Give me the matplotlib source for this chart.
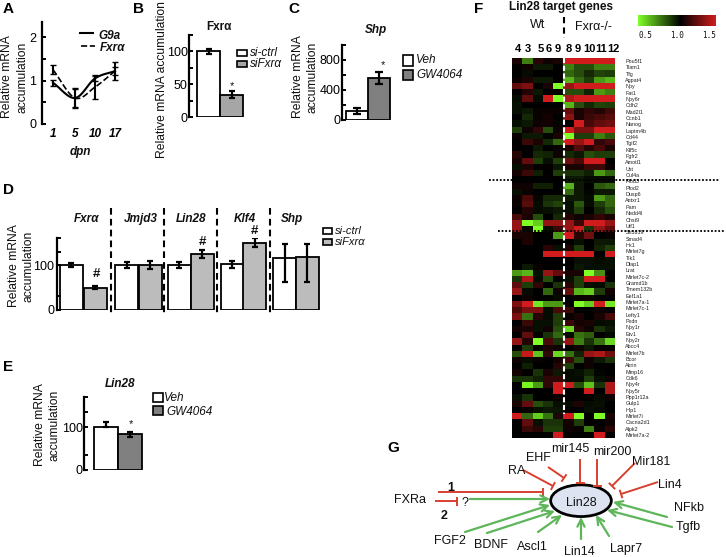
# Multi-panel figure: Lin28 / Fxra expression bars, heatmap and pathway sketch

import numpy as np
import matplotlib
matplotlib.use("Agg")
import matplotlib.pyplot as plt
from matplotlib.colors import LinearSegmentedColormap, TwoSlopeNorm
from matplotlib.patches import Ellipse, Rectangle

plt.rcParams['font.family'] = ['Liberation Sans', 'DejaVu Sans']

W, H = 726, 557

# --- panel A
a_days = ['1', '5', '10', '17']
a_g9a = [0.95, 0.60, 1.05, 1.22]
a_g9a_err = [0.07, 0.22, 0.06, 0.10]
a_fxr = [1.25, 0.60, 0.85, 1.22]
a_fxr_err = [0.10, 0.20, 0.28, 0.20]

# --- panel B
b_vals = [100, 34]
b_err = [4, 5]

# --- panel C
c_vals = [120, 565]
c_err = [45, 80]

# --- panel D
d_genes = ['Fxr\u03b1', 'Jmjd3', 'Lin28', 'Klf4', 'Shp']
d_ctrl = [100, 100, 100, 102, 116]
d_ctrl_lo = [4, 7, 7, 8, 53]
d_ctrl_hi = [4, 7, 7, 8, 30]
d_si = [50, 100, 124, 150, 117]
d_si_lo = [4, 8, 9, 10, 54]
d_si_hi = [4, 8, 9, 10, 29]

# --- panel E
e_vals = [100, 83]
e_err_lo = [0, 6]
e_err_hi = [12, 6]

# --- panel F
f_samples = ['4', '3', '5', '6', '9', '8', '9', '10', '11', '12']
f_genes = ['Pou5f1', 'Tiam1', 'Tfg', 'Agpat4', 'Npy', 'Fat1', 'Npy6r', 'Cdh2', 'Mad2l1', 'Ccnb1',
           'Nanog', 'Laptm4b', 'Cd44', 'Tgif2', 'Klf5c', 'Fgfr2', 'Amotl1', 'Ust', 'Cul4a', 'Plod3',
           'Plod2', 'Dusp6', 'Antxr1', 'Pam', 'Nedd4l', 'Chst9', 'Utf1', 'Sh3d19', 'Smad4', 'Hk1',
           'Mirlet7g', 'Tlk1', 'Dlap1', 'Lrat', 'Mirlet7c-2', 'Gramd1b', 'Tmem132b', 'Eef1a1',
           'Mirlet7a-1', 'Mirlet7c-1', 'Lefty1', 'Pxdn', 'Npy1r', 'Etv1', 'Npy2r', 'Abcc4', 'Mirlet7b',
           'Bcor', 'Akrin', 'Mmp16', 'Cdk6', 'Npy4r', 'Npy5r', 'Ppp1r12a', 'Gulp1', 'Hip1', 'Mirlet7i',
           'Cacna2d1', 'Alpk2', 'Mirlet7a-2']
# offset from 1.0 for each row
f_offset = [
    [.05, -.25, .08, .03, .05, .42, .42, .42, .42, .42],
    [0, .03, -.05, -.05, 0, -.25, -.15, -.15, -.25, -.25],
    [0, -.02, 0, 0, 0, -.2, -.15, -.08, -.13, -.12],
    [.02, .05, -.05, -.05, 0, -.35, -.2, -.12, -.3, -.35],
    [.2, .25, 0, .05, -.5, .3, .42, .42, .42, .42],
    [0, .07, -.05, 0, 0, -.15, -.15, -.07, -.3, -.25],
    [-.02, .2, -.02, .42, -.5, .35, .42, .42, .42, .42],
    [-.03, 0, 0, 0, 0, -.35, -.15, -.08, -.13, -.12],
    [-.03, -.05, .02, .02, .02, .2, .05, .1, .07, .13],
    [0, -.08, .02, .04, 0, .28, .05, .12, .15, .18],
    [-.03, -.05, .03, .04, -.01, 0, .42, .15, .2, .22],
    [-.12, .03, .1, -.15, .03, .42, .25, .25, .42, .42],
    [.02, -.05, -.05, -.01, .05, -.5, -.12, -.12, -.25, -.17],
    [0, .12, .05, -.08, -.2, .42, .3, .42, .1, .15],
    [0, 0, -.05, 0, .02, .05, .17, .08, .15, .05],
    [.08, 0, -.08, -.07, .03, -.08, -.05, -.15, -.12, -.12],
    [.04, .2, -.12, -.03, -.12, .22, .15, .42, .42, 0],
    [-.03, .05, .01, .01, -.04, .05, .05, .12, .12, .02],
    [.04, .12, -.06, 0, -.12, -.1, -.1, -.06, -.3, -.2],
    [0, 0, 0, 0, 0, -.05, -.05, -.02, -.02, -.02],
    [.03, .03, -.06, -.06, 0, -.35, -.05, 0, -.17, -.2],
    [-.03, .02, 0, 0, 0, -.2, -.05, -.01, -.05, -.05],
    [.02, .15, -.01, -.08, -.08, -.05, -.05, -.02, -.3, -.2],
    [.02, .18, -.02, -.1, -.13, -.03, -.17, -.02, -.12, -.2],
    [0, .07, -.02, -.03, -.05, -.03, -.12, 0, -.08, -.15],
    [.15, .05, -.15, 0, -.08, .07, .03, .05, .1, .05],
    [.3, -.5, -.4, .3, .3, .3, .12, .42, .42, .3],
    [.3, -.02, -.5, -.03, .12, .3, .42, -.1, .3, .2],
    [.05, .05, 0, 0, -.3, .42, .08, .22, 0, .02],
    [0, .05, 0, 0, 0, 0, -.03, 0, -.05, -.05],
    [0, 0, 0, .08, -.03, .05, -.12, 0, -.07, -.12],
    [0, 0, 0, .42, .42, .42, .42, .42, 0, .42],
    [0, 0, 0, 0, 0, 0, -.03, -.03, -.02, -.03],
    [0, -.05, .02, 0, 0, 0, -.05, -.03, -.03, -.03],
    [-.3, -.35, -.03, .3, .2, .05, .05, -.5, -.28, 0],
    [-.1, .35, -.02, -.15, 0, -.03, -.12, .42, .42, 0],
    [.2, -.12, .1, 0, -.1, .08, -.12, -.03, -.02, -.1],
    [.3, -.02, 0, -.2, .03, .2, -.35, -.4, -.12, .04],
    [0, .03, 0, 0, -.02, 0, .02, .03, 0, 0],
    [.25, .42, -.45, -.3, -.3, 0, -.5, -.4, .42, -.45],
    [.15, .25, .25, -.02, .15, .12, 0, 0, .03, 0],
    [.25, -.22, .08, -.02, -.12, .02, .05, 0, .05, .15],
    [0, .12, -.03, -.03, -.12, .12, .04, .05, -.02, -.03],
    [.04, .05, -.03, .03, -.15, -.42, .08, .03, -.1, -.05],
    [0, .2, 0, -.1, -.2, -.02, -.22, -.18, 0, -.02],
    [.3, .07, -.5, .15, -.1, .3, -.25, -.1, -.22, -.42],
    [0, -.12, 0, .05, .03, 0, .03, -.05, 0, 0],
    [-.15, .4, -.38, .1, -.42, -.22, -.07, .3, .35, .22],
    [.03, -.02, .02, 0, .04, .12, -.15, .03, -.05, -.1],
    [0, -.06, 0, 0, .08, -.12, 0, .03, 0, 0],
    [.04, 0, -.1, .05, -.05, -.02, -.03, -.07, -.01, 0],
    [-.1, -.1, -.06, .1, .1, -.02, -.02, -.12, -.03, .03],
    [0, -.48, -.3, .1, .42, .42, -.15, -.38, -.1, .35],
    [0, 0, 0, 0, .42, 0, 0, .42, 0, .35],
    [-.03, -.1, 0, 0, .02, 0, 0, 0, -.02, .03],
    [.05, .2, -.15, -.1, -.03, -.02, .06, -.02, -.03, 0],
    [0, .02, -.03, -.05, -.04, 0, 0, -.03, -.02, 0],
    [.42, -.2, -.4, -.22, .06, .42, -.5, 0, -.5, .05],
    [0, .2, -.03, -.1, -.1, .04, -.12, 0, 0, .03],
    [0, .12, .08, -.12, -.12, .03, .02, -.25, .02, .08],
    [0, 0, 0, 0, .42, 0, 0, 0, .42, 0],
]

GREY_B = '#a6a6a6'
GREY_D = '#bcbcbc'
GREY_C = '#808080'
RED = '#d8402f'
GREEN = '#5fb55a'

fig = plt.figure(figsize=(W / 100, H / 100), dpi=100)


def px_axes(left, top, right, bottom, pad=1):
    # axes placed by pixel box, x data in pixels too
    ax = fig.add_axes([left / W, 1 - bottom / H, (right - left) / W, (bottom - top) / H])
    ax.set_xlim(left, right)
    ax.patch.set_alpha(0)
    for s in ['top', 'right', 'bottom']:
        ax.spines[s].set_visible(False)
    ax.spines['left'].set_linewidth(1.6)
    ax.tick_params(axis='y', direction='in', length=3, width=1.4, labelsize=9, pad=pad)
    ax.tick_params(axis='x', length=0)
    ax.set_xticks([])
    return ax


def draw_bars(ax, xs, vals, width, colors, lo, hi, cap=2):
    ax.bar(xs, vals, width=width, color=colors, edgecolor='black', linewidth=1.3)
    ax.errorbar(xs, vals, yerr=[lo, hi], fmt='none', ecolor='black', elinewidth=1.6,
                capsize=cap, capthick=1.6)


def smooth(x, y, n=24):
    # Catmull-Rom through the points so the curve has no overshoot from a single polynomial
    x = np.asarray(x, dtype=float)
    y = np.asarray(y, dtype=float)
    px = np.r_[2 * x[0] - x[1], x, 2 * x[-1] - x[-2]]
    py = np.r_[2 * y[0] - y[1], y, 2 * y[-1] - y[-2]]
    out_x, out_y = [], []
    t = np.linspace(0, 1, n)
    for i in range(1, len(px) - 2):
        for p, out in ((px, out_x), (py, out_y)):
            out.append(0.5 * (2 * p[i] + (p[i + 1] - p[i - 1]) * t
                              + (2 * p[i - 1] - 5 * p[i] + 4 * p[i + 1] - p[i + 2]) * t ** 2
                              + (3 * p[i] - p[i - 1] - 3 * p[i + 1] + p[i + 2]) * t ** 3))
    return np.concatenate(out_x), np.concatenate(out_y)


# Panel A
ax = px_axes(42, 22, 125, 124, pad=4)
ax.set_ylim(0, 2.35)
ax.set_yticks([0, 0.5, 1, 1.5, 2], ['0', '', '1', '', '2'])
a_x = np.array([53, 75, 95, 115])
ax.plot(*smooth(a_x, a_g9a), color='black', lw=1.5)
ax.plot(*smooth(a_x, a_fxr), color='black', lw=1.2, ls='--')
ax.errorbar(a_x, a_g9a, yerr=a_g9a_err, fmt='none', ecolor='black', elinewidth=1.5, capsize=2)
ax.errorbar(a_x, a_fxr, yerr=a_fxr_err, fmt='none', ecolor='black', elinewidth=1.5, capsize=2)
ax.set_xticks(a_x, a_days, fontsize=8.5, fontweight='bold', fontstyle='italic')
ax.tick_params(axis='x', pad=3)

# Panel B
ax = px_axes(189, 35, 250, 117)
ax.set_ylim(0, 125)
ax.set_yticks([0, 25, 50, 75, 100, 125], ['0', '', '50', '', '100', ''])
draw_bars(ax, [208.5, 231.5], b_vals, 23, ['white', GREY_B], b_err, b_err)

# Panel C
ax = px_axes(342, 45, 395, 120)
ax.set_ylim(0, 1000)
ax.set_yticks([0, 200, 400, 600, 800, 1000], ['0', '', '400', '', '800', ''])
draw_bars(ax, [357, 379], c_vals, 22, ['white', GREY_C], c_err, c_err, cap=3)

# Panel D
ax = px_axes(57, 238, 322, 310, pad=2)
ax.set_ylim(0, 160)
ax.set_yticks([0, 32, 100, 130, 160], ['0', '', '100', '', ''])
d_left = np.array([71, 126.5, 179, 232, 284.5])
d_right = np.array([95, 150, 202, 254.5, 307])
draw_bars(ax, d_left, d_ctrl, 23, 'white', d_ctrl_lo, d_ctrl_hi)
draw_bars(ax, d_right, d_si, 23, GREY_D, d_si_lo, d_si_hi)

# Panel E
ax = px_axes(84, 397, 145, 470)
ax.set_ylim(0, 170)
ax.set_yticks([0, 35, 100, 135, 170], ['0', '', '100', '', ''])
draw_bars(ax, [105.5, 129.5], e_vals, 24, ['white', GREY_C], e_err_lo, e_err_hi)

# Panel F heatmap
cmap = LinearSegmentedColormap.from_list('gbr', ['#80ff26', '#000000', '#d01c1c'])
norm = TwoSlopeNorm(vmin=0.5, vcenter=1.0, vmax=1.42)
heat = 1 + np.array(f_offset)
ax = fig.add_axes([512 / W, 1 - 438 / H, 103 / W, 380 / H])
ax.imshow(heat, cmap=cmap, norm=norm, aspect='auto', interpolation='nearest')
# sample and gene labels do not sit exactly on the cells in the original
col_w = 103 / heat.shape[1]
row_h = 380 / heat.shape[0]
sample_x = np.array([518, 528, 541, 549, 558, 569, 578, 589, 601, 613.5])
gene_y = 61 + np.arange(len(f_genes)) * 6.34
ax.set_xticks((sample_x - 512) / col_w - 0.5, f_samples, fontsize=8, fontweight='bold')
ax.xaxis.tick_top()
ax.set_yticks((gene_y - 58) / row_h - 0.5, f_genes, fontsize=3.9)
ax.yaxis.tick_right()
ax.tick_params(axis='both', length=0)
ax.tick_params(axis='y', pad=7.5, labelcolor='#222222')
ax.tick_params(axis='x', pad=3)
for s in ax.spines.values():
    s.set_visible(False)

# colour bar
cax = fig.add_axes([638 / W, 1 - 26 / H, 78 / W, 11 / H])
cax.imshow(np.linspace(0.5, 1.42, 256)[None, :], cmap=cmap, norm=norm, aspect='auto')
cax.axis('off')

# overlay in pixel coordinates for the annotation and the pathway sketch
ov = fig.add_axes([0, 0, 1, 1])
ov.set_xlim(0, W)
ov.set_ylim(H, 0)
ov.axis('off')
ov.patch.set_alpha(0)


def txt(x, y, s, size=8.7, weight='normal', style='normal', ha='center', rot=0, family=None, color='#111111'):
    ov.text(x, y, s, fontsize=size, fontweight=weight, fontstyle=style, ha=ha, va='center',
            rotation=rot, family=family, color=color)


def legend_box(x, y, w, h, color):
    ov.add_patch(Rectangle((x, y), w, h, facecolor=color, edgecolor='black', linewidth=1.2))


for x, y, s in [(8, 9, 'A'), (139, 9, 'B'), (294, 9, 'C'), (8, 190, 'D'), (8, 367, 'E'),
                (479, 9, 'F'), (393, 448, 'G')]:
    txt(x, y, s, size=11, weight='bold', color='black')

# y labels
for x1, x2, y in [(7, 22, 77), (298, 312, 77), (14, 29, 266), (40, 54, 425)]:
    txt(x1, y, 'Relative mRNA', rot=90)
    txt(x2, y, 'accumulation', rot=90)
txt(162, 80, 'Relative mRNA accumulation', rot=90)

# A annotation
ov.plot([80, 93], [33, 33], color='black', lw=1.5)
ov.plot([81, 95], [46, 46], color='black', lw=1.2, ls='--')
txt(98, 36, 'G9a', size=8.5, weight='bold', style='italic', ha='left')
txt(100, 48, 'Fxr\u03b1', size=8.5, weight='bold', style='italic', ha='left')
txt(80, 152, 'dpn', size=8.5, weight='bold', style='italic')

# B annotation
txt(219, 27, 'Fxr\u03b1', size=8.5, weight='bold')
txt(232, 86, '*', size=8)
legend_box(237, 50, 10, 6, 'white')
legend_box(237, 61, 10, 6, GREY_B)
txt(250, 53, 'si-ctrl', size=8.5, style='italic', ha='left')
txt(250, 64, 'siFxr\u03b1', size=8.5, style='italic', ha='left')

# C annotation
txt(376, 30, 'Shp', size=8.5, weight='bold', style='italic')
txt(383, 65, '*', size=8)
legend_box(403, 55, 10, 11, 'white')
legend_box(403, 70, 10, 10, GREY_C)
txt(416, 60, 'Veh', size=8.5, style='italic', ha='left')
txt(416, 75, 'GW4064', size=8.5, style='italic', ha='left')

# D annotation
for x, s in zip([87, 141, 191, 245, 292], d_genes):
    txt(x, 219, s, size=8.5, weight='bold', style='italic')
for x in [110.5, 164, 217, 269.5]:
    ov.plot([x, x], [208, 313], color='black', lw=1.5, ls=(0, (3.2, 2)))
for x, y in [(96, 274), (202, 242), (254.7, 231)]:
    txt(x, y, '#', size=9.5, weight='bold')
legend_box(323, 228, 9, 6, 'white')
legend_box(323, 239, 9, 6, GREY_D)
txt(335, 230.5, 'si-ctrl', size=8, style='italic', ha='left')
txt(335, 242, 'siFxr\u03b1', size=8, style='italic', ha='left')

# E annotation
txt(120, 384, 'Lin28', size=8.5, weight='bold', style='italic')
txt(131, 424, '*', size=8)
legend_box(153, 393, 10, 9, 'white')
legend_box(153, 406, 10, 9, GREY_C)
txt(164, 398, 'Veh', size=8.5, style='italic', ha='left')
txt(166, 412, 'GW4064', size=8.5, style='italic', ha='left')

# F annotation
txt(561, 7, 'Lin28 target genes', size=8.5, weight='bold')
txt(538, 25, 'Wt', size=9)
txt(593, 27, 'Fxr\u03b1-/-', size=9)
ov.plot([563.5, 563.5], [17, 38], color='black', lw=1.5, ls=(0, (3, 2)))
ov.plot([563.5, 563.5], [58, 414], color='white', lw=1.5, ls=(0, (2.5, 1.2)))
ov.plot([489, 720], [179.5, 179.5], color='black', lw=1.3, ls=(0, (1, 1)))
ov.plot([498, 725], [230.7, 230.7], color='black', lw=1.3, ls=(0, (1, 1)))
for x, s in [(645, '0.5'), (677, '1.0'), (709, '1.5')]:
    txt(x, 35, s, size=5.5, family='DejaVu Sans Mono')

# G pathway sketch
ov.add_patch(Ellipse((581, 500.7), 60.7, 31.7, facecolor='#dde3f0', edgecolor='black', linewidth=2))
txt(581, 503, 'Lin28', size=9)
for x, y, s in [(410, 500, 'FXRa'), (465, 503, '?'), (517, 471, 'RA'), (538, 458, 'EHF'),
                (570, 449, 'mir145'), (612, 452, 'mir200'), (651, 462, 'Mir181'), (670, 485, 'Lin4'),
                (689, 508, 'NFkb'), (688, 527, 'Tgfb'), (450, 541, 'FGF2'), (491, 545, 'BDNF'),
                (532, 547, 'Ascl1'), (579, 552, 'Lin14'), (626, 549, 'Lapr7')]:
    txt(x, y, s, size=9)
txt(451, 488, '1', size=9, weight='bold')
txt(444, 516, '2', size=9, weight='bold')

inhibit = [((438, 492), (543, 492)), ((435, 501), (457, 501)), ((523, 470), (553, 486)),
           ((548, 467), (564, 478)), ((580, 459), (580, 483)), ((597, 459), (597, 486)),
           ((635, 463), (612, 486)), ((658, 482), (621, 494))]
for (x0, y0), (x1, y1) in inhibit:
    ov.plot([x0, x1], [y0, y1], color=RED, lw=1.4, solid_capstyle='butt')
    d = np.array([x1 - x0, y1 - y0], dtype=float)
    d /= np.hypot(*d)
    ov.plot([x1 - 3.5 * d[1], x1 + 3.5 * d[1]], [y1 + 3.5 * d[0], y1 - 3.5 * d[0]], color=RED, lw=1.4)

activate = [((470, 499), (550, 499)), ((465, 532), (550, 505)), ((487, 533), (555, 511)),
            ((538, 532), (562, 515)), ((581, 539), (581, 517)), ((609, 536), (596, 515)),
            ((672, 527), (607, 510)), ((667, 517), (613, 502))]
for start, end in activate:
    ov.annotate('', xy=end, xytext=start,
                arrowprops=dict(arrowstyle='->', color=GREEN, lw=1.6, mutation_scale=13,
                                shrinkA=0, shrinkB=0))

plt.savefig('out.png', dpi=100)
